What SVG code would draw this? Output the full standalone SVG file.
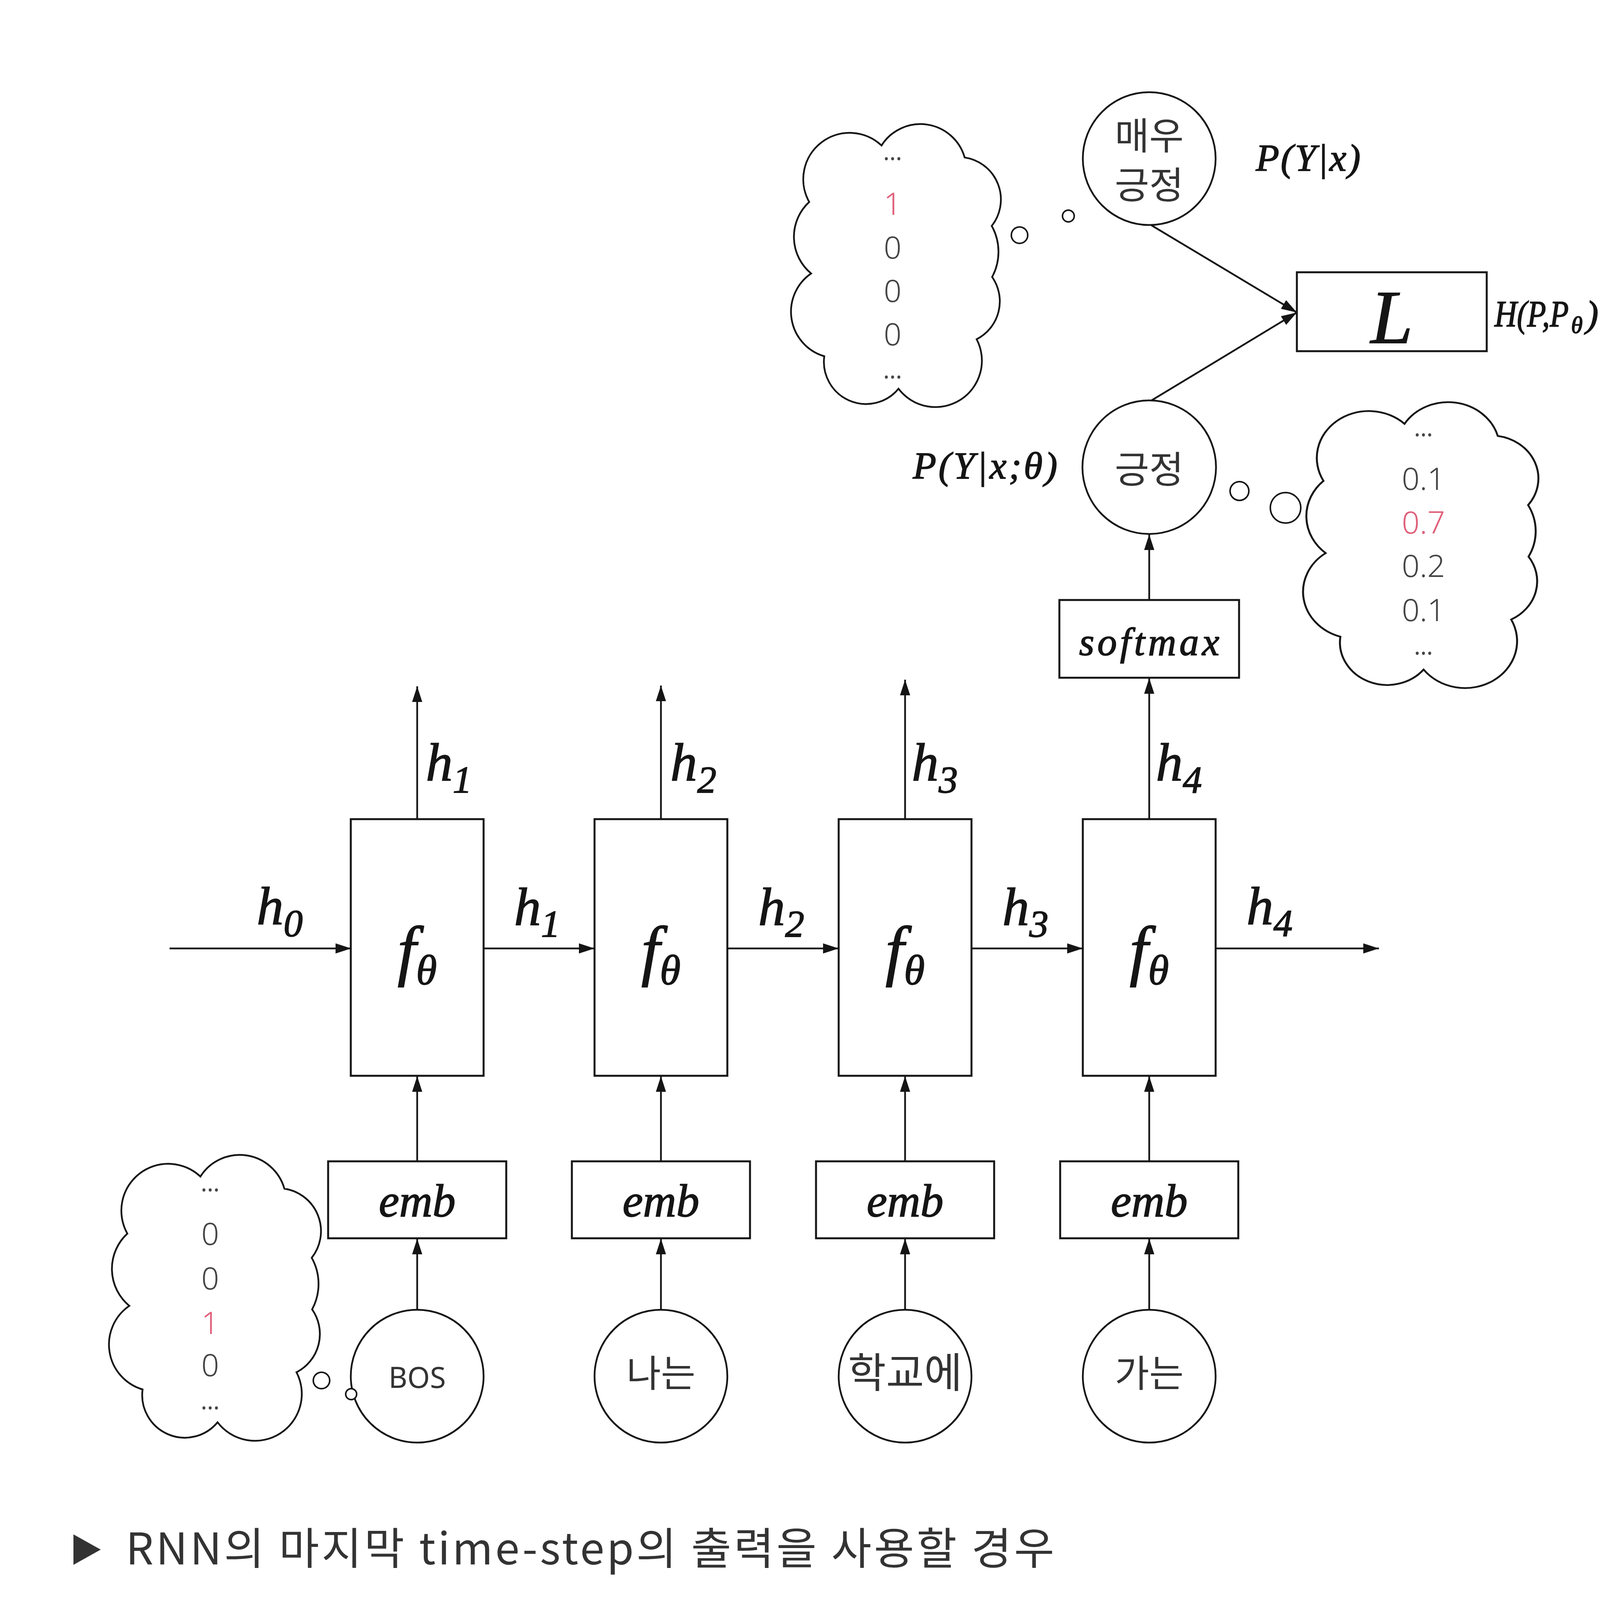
<svg xmlns="http://www.w3.org/2000/svg" width="4540" height="4096" viewBox="0 0 4540 4096">
<style>
.bg{fill:#ffffff}
.box{fill:#ffffff;stroke:#151515;stroke-width:5}
.node{fill:#ffffff;stroke:#151515;stroke-width:4.5}
.cloud{fill:#ffffff;stroke:#151515;stroke-width:4.5;vector-effect:non-scaling-stroke}
.bub{fill:#ffffff;stroke:#151515;stroke-width:4}
.con{fill:none;stroke:#151515;stroke-width:4.5}
.m{font-family:"Liberation Serif","DejaVu Serif",serif;font-style:italic;fill:#151515;stroke:#151515;stroke-width:2}
.h{font-size:138px}
.hs{font-size:98px}
.f{font-size:172px}
.fs{font-size:108px}
.ko{font-family:"Noto Sans CJK KR","Noto Sans",sans-serif;fill:#333333;text-anchor:middle}
.num{font-family:"Noto Sans","Liberation Sans",sans-serif;font-weight:300;font-size:80px;fill:#444444;text-anchor:middle}
.red{fill:#e0607a}
.dots{font-family:"Noto Sans","Liberation Sans",sans-serif;font-size:60px;fill:#444444;text-anchor:middle}
.cap{font-family:"Noto Sans CJK KR","Noto Sans",sans-serif;font-size:112px;fill:#333333}
</style>
<defs>
<marker id="arr" viewBox="0 0 40 30" refX="40" refY="15" markerWidth="40" markerHeight="30" markerUnits="userSpaceOnUse" orient="auto">
<path d="M0,2 L40,15 L0,28 Z" fill="#151515"/>
</marker>
<path id="cloudShape" d="M46 201 A120 120 0 0 1 233 55 A119 119 0 0 1 448 86 A110 110 0 0 1 518 263 A137 137 0 0 1 519 395 A110 110 0 0 1 479 556 A120 120 0 0 1 277 684 A109 109 0 0 1 85 600 A120 120 0 0 1 51 386 A123 123 0 0 1 46 201 Z"/>
</defs>
<rect class="bg" x="0" y="0" width="4540" height="4096"/>

<g id="connectors">
<line class="con" x1="434" y1="2428" x2="899" y2="2428" marker-end="url(#arr)"/>
<line class="con" x1="1238" y1="2428" x2="1522" y2="2428" marker-end="url(#arr)"/>
<line class="con" x1="1862" y1="2428" x2="2147" y2="2428" marker-end="url(#arr)"/>
<line class="con" x1="2487" y1="2428" x2="2772" y2="2428" marker-end="url(#arr)"/>
<line class="con" x1="3112" y1="2428" x2="3530" y2="2428" marker-end="url(#arr)"/>
<line class="con" x1="1068" y1="2097" x2="1068" y2="1757" marker-end="url(#arr)"/>
<line class="con" x1="1692" y1="2097" x2="1692" y2="1755" marker-end="url(#arr)"/>
<line class="con" x1="2317" y1="2097" x2="2317" y2="1740" marker-end="url(#arr)"/>
<line class="con" x1="2942" y1="2097" x2="2942" y2="1736" marker-end="url(#arr)"/>
<line class="con" x1="1068" y1="2973" x2="1068" y2="2755" marker-end="url(#arr)"/>
<line class="con" x1="1692" y1="2973" x2="1692" y2="2755" marker-end="url(#arr)"/>
<line class="con" x1="2317" y1="2973" x2="2317" y2="2755" marker-end="url(#arr)"/>
<line class="con" x1="2942" y1="2973" x2="2942" y2="2755" marker-end="url(#arr)"/>
<line class="con" x1="1068" y1="3353" x2="1068" y2="3171" marker-end="url(#arr)"/>
<line class="con" x1="1692" y1="3353" x2="1692" y2="3171" marker-end="url(#arr)"/>
<line class="con" x1="2317" y1="3353" x2="2317" y2="3171" marker-end="url(#arr)"/>
<line class="con" x1="2942" y1="3353" x2="2942" y2="3171" marker-end="url(#arr)"/>
<line class="con" x1="2942" y1="1536" x2="2942" y2="1368" marker-end="url(#arr)"/>
<line class="con" x1="2948" y1="577" x2="3320" y2="800" marker-end="url(#arr)"/>
<line class="con" x1="2948" y1="1025" x2="3320" y2="800" marker-end="url(#arr)"/>
</g>

<g id="labels-h">
<text class="m h" x="657" y="2366">h<tspan class="hs" dy="30">0</tspan></text>
<text class="m h" x="1316" y="2368">h<tspan class="hs" dy="30">1</tspan></text>
<text class="m h" x="1941" y="2368">h<tspan class="hs" dy="30">2</tspan></text>
<text class="m h" x="2566" y="2368">h<tspan class="hs" dy="30">3</tspan></text>
<text class="m h" x="3191" y="2366">h<tspan class="hs" dy="30">4</tspan></text>
<text class="m h" x="1090" y="1998">h<tspan class="hs" dy="31">1</tspan></text>
<text class="m h" x="1716" y="1998">h<tspan class="hs" dy="31">2</tspan></text>
<text class="m h" x="2334" y="1998">h<tspan class="hs" dy="31">3</tspan></text>
<text class="m h" x="2959" y="1998">h<tspan class="hs" dy="31">4</tspan></text>
</g>

<g id="f1"><rect class="box" x="898" y="2097" width="340" height="657"/><text class="m f" x="1068" y="2490" text-anchor="middle">f<tspan class="fs" dy="30">θ</tspan></text></g>
<g id="f2"><rect class="box" x="1522" y="2097" width="340" height="657"/><text class="m f" x="1692" y="2490" text-anchor="middle">f<tspan class="fs" dy="30">θ</tspan></text></g>
<g id="f3"><rect class="box" x="2147" y="2097" width="340" height="657"/><text class="m f" x="2317" y="2490" text-anchor="middle">f<tspan class="fs" dy="30">θ</tspan></text></g>
<g id="f4"><rect class="box" x="2772" y="2097" width="340" height="657"/><text class="m f" x="2942" y="2490" text-anchor="middle">f<tspan class="fs" dy="30">θ</tspan></text></g>

<g id="emb1"><rect class="box" x="840" y="2973" width="456" height="197"/><text class="m" x="1068" y="3114" font-size="118" text-anchor="middle">emb</text></g>
<g id="emb2"><rect class="box" x="1464" y="2973" width="456" height="197"/><text class="m" x="1692" y="3114" font-size="118" text-anchor="middle">emb</text></g>
<g id="emb3"><rect class="box" x="2089" y="2973" width="456" height="197"/><text class="m" x="2317" y="3114" font-size="118" text-anchor="middle">emb</text></g>
<g id="emb4"><rect class="box" x="2714" y="2973" width="456" height="197"/><text class="m" x="2942" y="3114" font-size="118" text-anchor="middle">emb</text></g>

<g id="in-bos"><circle class="node" cx="1068" cy="3523" r="170"/><text x="1068" y="3553" font-family="Noto Sans, Liberation Sans, sans-serif" font-size="74" fill="#333333" text-anchor="middle">BOS</text></g>
<g id="in-naneun"><circle class="node" cx="1692" cy="3523" r="170"/><text class="ko" x="1692" y="3550" font-size="96">나는</text></g>
<g id="in-hakgyoe"><circle class="node" cx="2317" cy="3523" r="170"/><text class="ko" x="2317" y="3552" font-size="106">학교에</text></g>
<g id="in-ganeun"><circle class="node" cx="2942" cy="3523" r="170"/><text class="ko" x="2942" y="3550" font-size="96">가는</text></g>

<g id="softmax"><rect class="box" x="2712" y="1536" width="460" height="199"/><text class="m" x="2946" y="1677" font-size="100" letter-spacing="8" text-anchor="middle">softmax</text></g>

<g id="pred"><circle class="node" cx="2942" cy="1196" r="171"/><text class="ko" x="2942" y="1236" font-size="96">긍정</text></g>
<text id="label-ptheta" class="m" x="2337" y="1225" font-size="98" textLength="370" lengthAdjust="spacing">P(Y|x;θ)</text>

<g id="target"><circle class="node" cx="2942" cy="406" r="170"/><text class="ko" x="2942" y="382" font-size="96">매우<tspan x="2942" dy="126">긍정</tspan></text></g>
<text id="label-p" class="m" x="3215" y="437" font-size="98" textLength="268" lengthAdjust="spacing">P(Y|x)</text>

<g id="loss"><rect class="box" x="3320" y="697" width="486" height="202"/><text class="m" x="3563" y="878" font-size="195" text-anchor="middle">L</text></g>
<g id="label-h">
<text class="m" x="3826" y="836" font-size="96" textLength="190" lengthAdjust="spacingAndGlyphs">H(P,P</text>
<text class="m" x="4022" y="852" font-size="60">θ</text>
<text class="m" x="4060" y="836" font-size="96">)</text>
</g>

<g id="cloud-target">
<use href="#cloudShape" class="cloud" transform="translate(2026,318) scale(0.99,0.99)"/>
<text class="dots" x="2285" y="410">...</text>
<text class="num red" x="2285" y="550">1</text>
<text class="num" x="2285" y="662">0</text>
<text class="num" x="2285" y="773">0</text>
<text class="num" x="2285" y="884">0</text>
<text class="dots" x="2285" y="969">...</text>
<circle class="bub" cx="2610" cy="602" r="21"/>
<circle class="bub" cx="2735" cy="553" r="15"/>
</g>

<g id="cloud-pred">
<use href="#cloudShape" class="cloud" transform="translate(3337,1030) scale(1.11,1.0)"/>
<text class="dots" x="3644" y="1117">...</text>
<text class="num" x="3644" y="1254">0.1</text>
<text class="num red" x="3644" y="1366">0.7</text>
<text class="num" x="3644" y="1477">0.2</text>
<text class="num" x="3644" y="1590">0.1</text>
<text class="dots" x="3644" y="1676">...</text>
<circle class="bub" cx="3173" cy="1257" r="24"/>
<circle class="bub" cx="3291" cy="1300" r="39"/>
</g>

<g id="cloud-input">
<use href="#cloudShape" class="cloud" transform="translate(280,2957)"/>
<text class="dots" x="538" y="3050">...</text>
<text class="num" x="538" y="3187">0</text>
<text class="num" x="538" y="3301">0</text>
<text class="num red" x="538" y="3415">1</text>
<text class="num" x="538" y="3523">0</text>
<text class="dots" x="538" y="3608">...</text>
<circle class="bub" cx="823" cy="3534" r="21"/>
<circle class="bub" cx="899" cy="3569" r="14"/>
</g>

<g id="caption">
<path d="M188 3928 L258 3967 L188 4006 Z" fill="#333333"/>
<text class="cap" x="322" y="4005" textLength="2377" lengthAdjust="spacing">RNN의 마지막 time-step의 출력을 사용할 경우</text>
</g>
</svg>
